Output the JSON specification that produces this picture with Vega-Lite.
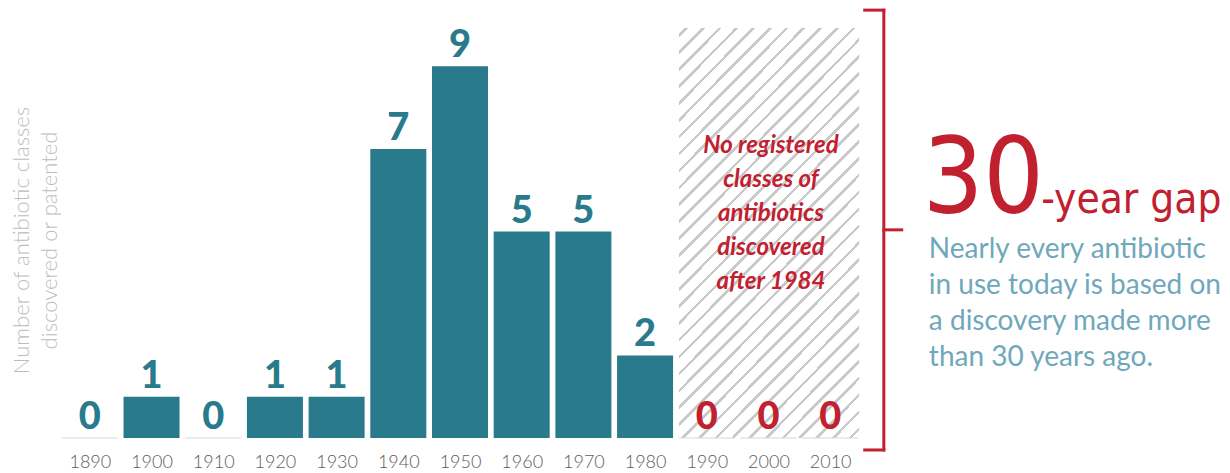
{
  "$schema": "https://vega.github.io/schema/vega-lite/v6.json",
  "width": 812,
  "height": 413,
  "autosize": {"type": "none"},
  "padding": {"left": 54, "top": 25, "right": 364, "bottom": 35},
  "background": "white",
  "config": {"view": {"stroke": null}, "font": "Lato"},
  "data": {"values": [
    {"decade": 1890, "count": 0},
    {"decade": 1900, "count": 1},
    {"decade": 1910, "count": 0},
    {"decade": 1920, "count": 1},
    {"decade": 1930, "count": 1},
    {"decade": 1940, "count": 7},
    {"decade": 1950, "count": 9},
    {"decade": 1960, "count": 5},
    {"decade": 1970, "count": 5},
    {"decade": 1980, "count": 2},
    {"decade": 1990, "count": 0},
    {"decade": 2000, "count": 0},
    {"decade": 2010, "count": 0}
  ]},
  "layer": [
    {
      "data": {"values": [{}]},
      "mark": {"type": "rect", "fill": {"gradient": "linear", "x1": 0, "y1": 0, "x2": 0.5355, "y2": 1.206, "stops": [
        {"offset": 0, "color": "#ffffff"},
        {"offset": 0.01, "color": "#ffffff"}, {"offset": 0.01, "color": "#c9c9c9"}, {"offset": 0.0162, "color": "#c9c9c9"}, {"offset": 0.0162, "color": "#ffffff"},
        {"offset": 0.038571, "color": "#ffffff"}, {"offset": 0.038571, "color": "#c9c9c9"}, {"offset": 0.044771, "color": "#c9c9c9"}, {"offset": 0.044771, "color": "#ffffff"},
        {"offset": 0.067143, "color": "#ffffff"}, {"offset": 0.067143, "color": "#c9c9c9"}, {"offset": 0.073343, "color": "#c9c9c9"}, {"offset": 0.073343, "color": "#ffffff"},
        {"offset": 0.095714, "color": "#ffffff"}, {"offset": 0.095714, "color": "#c9c9c9"}, {"offset": 0.101914, "color": "#c9c9c9"}, {"offset": 0.101914, "color": "#ffffff"},
        {"offset": 0.124286, "color": "#ffffff"}, {"offset": 0.124286, "color": "#c9c9c9"}, {"offset": 0.130486, "color": "#c9c9c9"}, {"offset": 0.130486, "color": "#ffffff"},
        {"offset": 0.152857, "color": "#ffffff"}, {"offset": 0.152857, "color": "#c9c9c9"}, {"offset": 0.159057, "color": "#c9c9c9"}, {"offset": 0.159057, "color": "#ffffff"},
        {"offset": 0.181429, "color": "#ffffff"}, {"offset": 0.181429, "color": "#c9c9c9"}, {"offset": 0.187629, "color": "#c9c9c9"}, {"offset": 0.187629, "color": "#ffffff"},
        {"offset": 0.21, "color": "#ffffff"}, {"offset": 0.21, "color": "#c9c9c9"}, {"offset": 0.2162, "color": "#c9c9c9"}, {"offset": 0.2162, "color": "#ffffff"},
        {"offset": 0.238571, "color": "#ffffff"}, {"offset": 0.238571, "color": "#c9c9c9"}, {"offset": 0.244771, "color": "#c9c9c9"}, {"offset": 0.244771, "color": "#ffffff"},
        {"offset": 0.267143, "color": "#ffffff"}, {"offset": 0.267143, "color": "#c9c9c9"}, {"offset": 0.273343, "color": "#c9c9c9"}, {"offset": 0.273343, "color": "#ffffff"},
        {"offset": 0.295714, "color": "#ffffff"}, {"offset": 0.295714, "color": "#c9c9c9"}, {"offset": 0.301914, "color": "#c9c9c9"}, {"offset": 0.301914, "color": "#ffffff"},
        {"offset": 0.324286, "color": "#ffffff"}, {"offset": 0.324286, "color": "#c9c9c9"}, {"offset": 0.330486, "color": "#c9c9c9"}, {"offset": 0.330486, "color": "#ffffff"},
        {"offset": 0.352857, "color": "#ffffff"}, {"offset": 0.352857, "color": "#c9c9c9"}, {"offset": 0.359057, "color": "#c9c9c9"}, {"offset": 0.359057, "color": "#ffffff"},
        {"offset": 0.381429, "color": "#ffffff"}, {"offset": 0.381429, "color": "#c9c9c9"}, {"offset": 0.387629, "color": "#c9c9c9"}, {"offset": 0.387629, "color": "#ffffff"},
        {"offset": 0.41, "color": "#ffffff"}, {"offset": 0.41, "color": "#c9c9c9"}, {"offset": 0.4162, "color": "#c9c9c9"}, {"offset": 0.4162, "color": "#ffffff"},
        {"offset": 0.438571, "color": "#ffffff"}, {"offset": 0.438571, "color": "#c9c9c9"}, {"offset": 0.444771, "color": "#c9c9c9"}, {"offset": 0.444771, "color": "#ffffff"},
        {"offset": 0.467143, "color": "#ffffff"}, {"offset": 0.467143, "color": "#c9c9c9"}, {"offset": 0.473343, "color": "#c9c9c9"}, {"offset": 0.473343, "color": "#ffffff"},
        {"offset": 0.495714, "color": "#ffffff"}, {"offset": 0.495714, "color": "#c9c9c9"}, {"offset": 0.501914, "color": "#c9c9c9"}, {"offset": 0.501914, "color": "#ffffff"},
        {"offset": 0.524286, "color": "#ffffff"}, {"offset": 0.524286, "color": "#c9c9c9"}, {"offset": 0.530486, "color": "#c9c9c9"}, {"offset": 0.530486, "color": "#ffffff"},
        {"offset": 0.552857, "color": "#ffffff"}, {"offset": 0.552857, "color": "#c9c9c9"}, {"offset": 0.559057, "color": "#c9c9c9"}, {"offset": 0.559057, "color": "#ffffff"},
        {"offset": 0.581429, "color": "#ffffff"}, {"offset": 0.581429, "color": "#c9c9c9"}, {"offset": 0.587629, "color": "#c9c9c9"}, {"offset": 0.587629, "color": "#ffffff"},
        {"offset": 0.61, "color": "#ffffff"}, {"offset": 0.61, "color": "#c9c9c9"}, {"offset": 0.6162, "color": "#c9c9c9"}, {"offset": 0.6162, "color": "#ffffff"},
        {"offset": 0.638571, "color": "#ffffff"}, {"offset": 0.638571, "color": "#c9c9c9"}, {"offset": 0.644771, "color": "#c9c9c9"}, {"offset": 0.644771, "color": "#ffffff"},
        {"offset": 0.667143, "color": "#ffffff"}, {"offset": 0.667143, "color": "#c9c9c9"}, {"offset": 0.673343, "color": "#c9c9c9"}, {"offset": 0.673343, "color": "#ffffff"},
        {"offset": 0.695714, "color": "#ffffff"}, {"offset": 0.695714, "color": "#c9c9c9"}, {"offset": 0.701914, "color": "#c9c9c9"}, {"offset": 0.701914, "color": "#ffffff"},
        {"offset": 0.724286, "color": "#ffffff"}, {"offset": 0.724286, "color": "#c9c9c9"}, {"offset": 0.730486, "color": "#c9c9c9"}, {"offset": 0.730486, "color": "#ffffff"},
        {"offset": 0.752857, "color": "#ffffff"}, {"offset": 0.752857, "color": "#c9c9c9"}, {"offset": 0.759057, "color": "#c9c9c9"}, {"offset": 0.759057, "color": "#ffffff"},
        {"offset": 0.781429, "color": "#ffffff"}, {"offset": 0.781429, "color": "#c9c9c9"}, {"offset": 0.787629, "color": "#c9c9c9"}, {"offset": 0.787629, "color": "#ffffff"},
        {"offset": 0.81, "color": "#ffffff"}, {"offset": 0.81, "color": "#c9c9c9"}, {"offset": 0.8162, "color": "#c9c9c9"}, {"offset": 0.8162, "color": "#ffffff"},
        {"offset": 0.838571, "color": "#ffffff"}, {"offset": 0.838571, "color": "#c9c9c9"}, {"offset": 0.844771, "color": "#c9c9c9"}, {"offset": 0.844771, "color": "#ffffff"},
        {"offset": 0.867143, "color": "#ffffff"}, {"offset": 0.867143, "color": "#c9c9c9"}, {"offset": 0.873343, "color": "#c9c9c9"}, {"offset": 0.873343, "color": "#ffffff"},
        {"offset": 0.895714, "color": "#ffffff"}, {"offset": 0.895714, "color": "#c9c9c9"}, {"offset": 0.901914, "color": "#c9c9c9"}, {"offset": 0.901914, "color": "#ffffff"},
        {"offset": 0.924286, "color": "#ffffff"}, {"offset": 0.924286, "color": "#c9c9c9"}, {"offset": 0.930486, "color": "#c9c9c9"}, {"offset": 0.930486, "color": "#ffffff"},
        {"offset": 0.952857, "color": "#ffffff"}, {"offset": 0.952857, "color": "#c9c9c9"}, {"offset": 0.959057, "color": "#c9c9c9"}, {"offset": 0.959057, "color": "#ffffff"},
        {"offset": 0.981429, "color": "#ffffff"}, {"offset": 0.981429, "color": "#c9c9c9"}, {"offset": 0.987629, "color": "#c9c9c9"}, {"offset": 0.987629, "color": "#ffffff"},
        {"offset": 1, "color": "#ffffff"}
      ]}},
      "encoding": {
        "x": {"datum": 1985.5, "type": "quantitative",
          "scale": {"domain": [1885, 2015], "nice": false, "zero": false},
          "axis": {"values": [1890, 1900, 1910, 1920, 1930, 1940, 1950, 1960, 1970, 1980, 1990, 2000, 2010], "format": "d", "title": null, "grid": false, "domain": false, "ticks": false, "tickSize": 0, "labelPadding": 15, "labelFont": "Lato", "labelFontSize": 18, "labelFontWeight": 300, "labelColor": "#5c5c5c"}},
        "x2": {"datum": 2014.7},
        "y": {"datum": 0, "type": "quantitative",
          "scale": {"domain": [0, 10], "nice": false, "zero": false},
          "axis": {"title": ["Number of antibiotic classes", "discovered or patented"], "labels": false, "ticks": false, "domain": false, "grid": false, "titleFont": "Lato", "titleFontSize": 22, "titleFontWeight": 300, "titleColor": "#bdbdbd", "titleAngle": -90, "titleX": -33, "titleY": 215, "titleAlign": "center", "titleBaseline": "middle", "titleLineHeight": 28}},
        "y2": {"datum": 9.93}
      }
    },
    {
      "transform": [{"filter": "datum.count == 0"}],
      "mark": {"type": "tick", "orient": "horizontal", "size": 56, "thickness": 1.3, "color": "#d2dce1"},
      "encoding": {
        "x": {"field": "decade", "type": "quantitative"},
        "y": {"field": "count", "type": "quantitative"}
      }
    },
    {
      "mark": {"type": "bar", "width": 56, "color": "#297b8c"},
      "encoding": {
        "x": {"field": "decade", "type": "quantitative"},
        "y": {"field": "count", "type": "quantitative"}
      }
    },
    {
      "mark": {"type": "text", "font": "Lato", "fontSize": 38, "fontWeight": 900, "baseline": "alphabetic", "dy": -9},
      "encoding": {
        "x": {"field": "decade", "type": "quantitative"},
        "y": {"field": "count", "type": "quantitative"},
        "text": {"field": "count", "type": "quantitative"},
        "color": {"condition": {"test": "datum.decade >= 1990", "value": "#c1202f"}, "value": "#297b8c"}
      }
    },
    {
      "data": {"values": [{}]},
      "mark": {"type": "text", "text": ["No registered", "classes of", "antibiotics", "discovered", "after 1984"], "font": "Lato", "fontSize": 24, "fontWeight": "bold", "fontStyle": "italic", "color": "#c1202f", "align": "center", "baseline": "alphabetic", "lineHeight": 34},
      "encoding": {
        "x": {"datum": 2000.4, "type": "quantitative"},
        "y": {"datum": 6.9, "type": "quantitative"}
      }
    },
    {
      "data": {"values": [{}]},
      "mark": {"type": "rule", "color": "#c1202f", "strokeWidth": 3, "strokeCap": "square"},
      "encoding": {
        "x": {"datum": 2018.7, "type": "quantitative"},
        "y": {"datum": 10.36, "type": "quantitative"},
        "y2": {"datum": -0.29}
      }
    },
    {
      "data": {"values": [{}]},
      "mark": {"type": "rule", "color": "#c1202f", "strokeWidth": 3, "strokeCap": "square"},
      "encoding": {
        "x": {"datum": 2015.6, "type": "quantitative"},
        "x2": {"datum": 2018.7},
        "y": {"datum": 10.36, "type": "quantitative"}
      }
    },
    {
      "data": {"values": [{}]},
      "mark": {"type": "rule", "color": "#c1202f", "strokeWidth": 3, "strokeCap": "square"},
      "encoding": {
        "x": {"datum": 2015.6, "type": "quantitative"},
        "x2": {"datum": 2018.7},
        "y": {"datum": -0.29, "type": "quantitative"}
      }
    },
    {
      "data": {"values": [{}]},
      "mark": {"type": "rule", "color": "#c1202f", "strokeWidth": 3, "strokeCap": "square"},
      "encoding": {
        "x": {"datum": 2018.7, "type": "quantitative"},
        "x2": {"datum": 2021.6},
        "y": {"datum": 5.04, "type": "quantitative"}
      }
    },
    {
      "data": {"values": [{}]},
      "mark": {"type": "text", "text": "30", "font": "DejaVu Sans Condensed", "fontSize": 106, "color": "#c1202f", "align": "left", "baseline": "alphabetic"},
      "encoding": {
        "x": {"datum": 2025.0, "type": "quantitative"},
        "y": {"datum": 5.448, "type": "quantitative"}
      }
    },
    {
      "data": {"values": [{}]},
      "mark": {"type": "text", "text": "-year gap", "font": "DejaVu Sans Condensed", "fontSize": 42, "color": "#c1202f", "align": "left", "baseline": "alphabetic"},
      "encoding": {
        "x": {"datum": 2044.2, "type": "quantitative"},
        "y": {"datum": 5.448, "type": "quantitative"}
      }
    },
    {
      "data": {"values": [{}]},
      "mark": {"type": "text", "text": ["Nearly every antibiotic", "in use today is based on", "a discovery made more", "than 30 years ago."], "font": "Lato", "fontSize": 28, "color": "#6fa8bb", "align": "left", "baseline": "alphabetic", "lineHeight": 36},
      "encoding": {
        "x": {"datum": 2026.0, "type": "quantitative"},
        "y": {"datum": 4.36, "type": "quantitative"}
      }
    }
  ]
}
